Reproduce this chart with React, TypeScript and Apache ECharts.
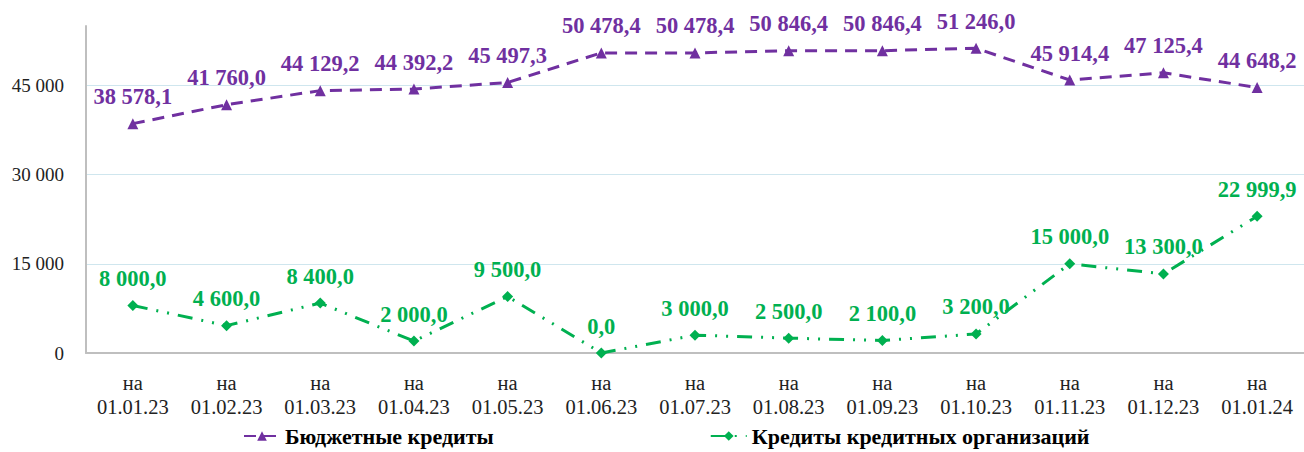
import React, { useEffect, useRef } from "react";
import * as echarts from "echarts";

const categories = [
  "01.01.23", "01.02.23", "01.03.23", "01.04.23", "01.05.23", "01.06.23", "01.07.23",
  "01.08.23", "01.09.23", "01.10.23", "01.11.23", "01.12.23", "01.01.24",
];
const budgetCredits = [
  38578.1, 41760.0, 44129.2, 44392.2, 45497.3, 50478.4, 50478.4,
  50846.4, 50846.4, 51246.0, 45914.4, 47125.4, 44648.2,
];
const bankCredits = [
  8000.0, 4600.0, 8400.0, 2000.0, 9500.0, 0.0, 3000.0,
  2500.0, 2100.0, 3200.0, 15000.0, 13300.0, 22999.9,
];
const seriesNames = ["Бюджетные кредиты", "Кредиты кредитных организаций"];

const FONT = "Liberation Serif, Times New Roman, serif";

function fmtInt(v: number): string {
  return Math.round(v).toString().replace(/\B(?=(\d{3})+(?!\d))/g, " ");
}
function fmtDec(v: number): string {
  const [i, d] = v.toFixed(1).split(".");
  return i.replace(/\B(?=(\d{3})+(?!\d))/g, " ") + "," + d;
}

export default function App() {
  const ref = useRef<HTMLDivElement>(null);
  useEffect(() => {
    document.body.style.margin = "0";
    const chart = echarts.init(ref.current!, null, { renderer: "svg" });
    chart.setOption({
      animation: false,
      backgroundColor: "#ffffff",
      textStyle: { fontFamily: FONT },
      grid: { left: 86, right: -4, top: 26, bottom: 99, containLabel: false },
      legend: {
        bottom: 0,
        left: 238,
        itemGap: 216,
        itemWidth: 36,
        itemHeight: 12,
        textStyle: { fontFamily: FONT, fontSize: 22, fontWeight: "bold", color: "#000" },
        data: seriesNames,
      },
      xAxis: {
        type: "category",
        data: categories,
        boundaryGap: true,
        axisLine: { lineStyle: { color: "#bfbfbf", width: 2 } },
        axisTick: { show: false },
        axisLabel: {
          interval: 0,
          hideOverlap: false,
          fontFamily: FONT,
          fontSize: 20.5,
          color: "#222",
          lineHeight: 24,
          margin: 18,
          formatter: (v: string) => "на\n" + v,
        },
      },
      yAxis: {
        type: "value",
        min: 0,
        max: 55000,
        interval: 15000,
        axisLine: { show: true, lineStyle: { color: "#bfbfbf", width: 2 } },
        axisTick: { show: false },
        splitLine: { show: true, showMaxLine: false, lineStyle: { color: "#cfe6ee", width: 1 } },
        axisLabel: {
          showMaxLabel: false,
          fontFamily: FONT,
          fontSize: 19,
          color: "#222",
          margin: 22,
          formatter: (v: number) => fmtInt(v),
        },
      },
      series: [
        {
          name: seriesNames[0],
          type: "line",
          data: budgetCredits,
          symbol: "triangle",
          symbolSize: 11,
          itemStyle: { color: "#7030a0" },
          lineStyle: { color: "#7030a0", width: 3, type: [12, 8] },
          label: {
            show: true,
            position: "top",
            distance: 10,
            fontFamily: FONT,
            fontSize: 22.5,
            fontWeight: "bold",
            color: "#7030a0",
            formatter: (p: any) => fmtDec(p.value),
          },
        },
        {
          name: seriesNames[1],
          type: "line",
          data: bankCredits,
          symbol: "diamond",
          symbolSize: 11,
          itemStyle: { color: "#00b050" },
          lineStyle: { color: "#00b050", width: 3, type: [15, 9, 2, 9, 2, 9] },
          label: {
            show: true,
            position: "top",
            distance: 10,
            fontFamily: FONT,
            fontSize: 22.5,
            fontWeight: "bold",
            color: "#00b050",
            formatter: (p: any) => fmtDec(p.value),
          },
        },
      ],
    });
    return () => chart.dispose();
  }, []);
  return <div ref={ref} style={{ width: 1304, height: 452 }} />;
}
